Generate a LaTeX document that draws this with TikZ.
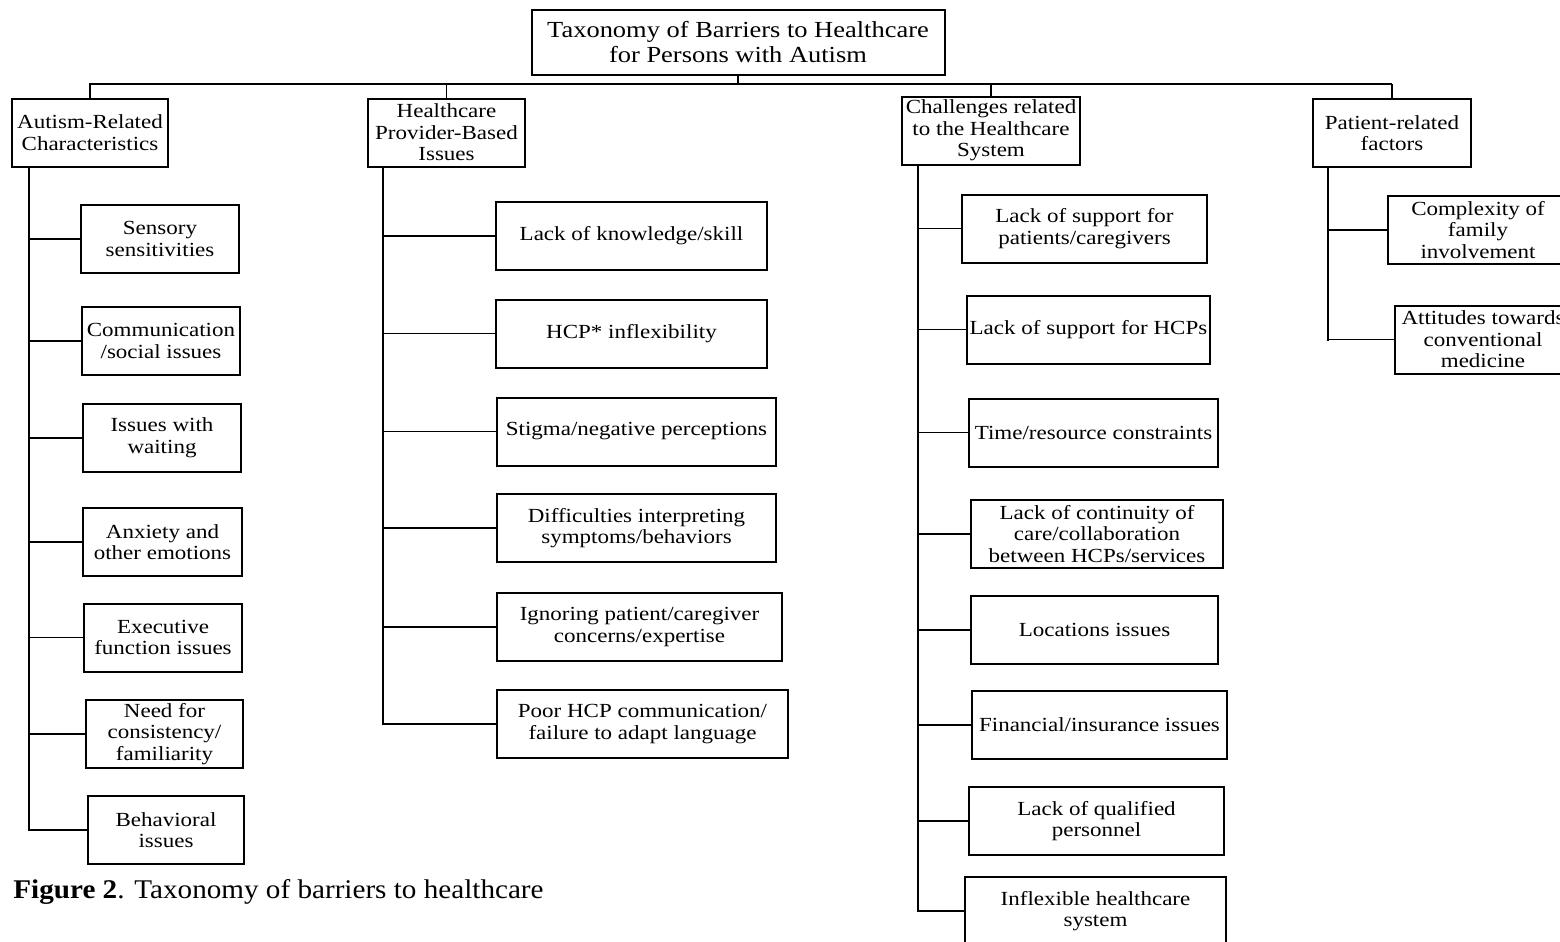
\documentclass[tikz,border=0pt]{standalone}
\usepackage{fontspec}
\setmainfont{Liberation Serif}
\newfontfamily\boxfont{Liberation Serif}[FakeStretch=1.15]
\newfontfamily\capfont{Liberation Serif}[FakeStretch=1.08]
\tikzset{
  box/.style={draw=black, line width=1pt, fill=white, align=center, inner sep=1pt,
    minimum height=34pt, font=\boxfont\fontsize{10}{10.8}\selectfont},
  rootbox/.style={box, minimum height=32.5pt, font=\boxfont\fontsize{11.5}{12.5}\selectfont},
  trunk/.style={line width=1.4pt, line cap=rect},
  branch/.style={line width=0.9pt},
  captext/.style={anchor=base west, inner sep=0pt, font=\capfont\fontsize{13.5}{15}\selectfont},
}

\begin{document}
\begin{tikzpicture}[x=0.5pt, y=-0.5pt]
\useasboundingbox (0,0) rectangle (1560,942);
% root and the four groups
\node[rootbox, minimum width=206.5pt] (root) at (738,42.5) {Taxonomy of Barriers to Healthcare\\for Persons with Autism};
\node[box, minimum width=78pt] (A) at (90,132.5) {Autism-Related\\Characteristics};
\node[box, minimum width=78.5pt] (B) at (446.5,132.5) {Healthcare\\Provider-Based\\Issues};
\node[box, minimum width=89pt] (C) at (991,130.5) {Challenges related\\to the Healthcare\\System};
\node[box, minimum width=79pt] (D) at (1392,133) {Patient-related\\factors};
\coordinate (bus) at (0,84);
\draw[trunk] (root.south) -- (root.south |- bus);
\draw[trunk] (A.north |- bus) -- (root.south |- bus);
\draw[branch] (root.south |- bus) -- (D.north |- bus);
\foreach \g in {A,B,C,D}
  \draw[branch] (\g.north) -- (\g.north |- bus);
% autism-related characteristics
\node[box, minimum width=79pt] (a1) at (160,239) {Sensory\\sensitivities};
\node[box, minimum width=79pt] (a2) at (161,341) {Communication\\/social issues};
\node[box, minimum width=79pt] (a3) at (162,438) {Issues with\\waiting};
\node[box, minimum width=79.5pt] (a4) at (162.5,542) {Anxiety and\\other emotions};
\node[box, minimum width=79pt] (a5) at (163,637.5) {Executive\\function issues};
\node[box, minimum width=78.5pt] (a6) at (164.5,734) {Need for\\consistency/\\familiarity};
\node[box, minimum width=78pt] (a7) at (166,830) {Behavioral\\issues};
% provider-based issues
\node[box, minimum width=135.5pt] (b1) at (631.5,236) {Lack of knowledge/skill};
\node[box, minimum width=135.5pt] (b2) at (631.5,333.5) {HCP* inflexibility};
\node[box, minimum width=139.5pt] (b3) at (636.5,431.5) {Stigma/negative perceptions};
\node[box, minimum width=139.5pt] (b4) at (636.5,528) {Difficulties interpreting\\symptoms/behaviors};
\node[box, minimum width=142.5pt] (b5) at (639.5,627) {Ignoring patient/caregiver\\concerns/expertise};
\node[box, minimum width=145.5pt] (b6) at (642.5,724) {Poor HCP communication/\\failure to adapt language};
% healthcare system
\node[box, minimum width=122.5pt] (c1) at (1084.5,228.5) {Lack of support for\\patients/caregivers};
\node[box, minimum width=121.5pt] (c2) at (1088.5,329.5) {Lack of support for HCPs};
\node[box, minimum width=124.5pt] (c3) at (1093.5,432.5) {Time/resource constraints};
\node[box, minimum width=126pt] (c4) at (1097,534) {Lack of continuity of\\care/collaboration\\between HCPs/services};
\node[box, minimum width=123.5pt] (c5) at (1094.5,630) {Locations issues};
\node[box, minimum width=127.5pt] (c6) at (1099.5,725) {Financial/insurance issues};
\node[box, minimum width=127.5pt] (c7) at (1096.5,821) {Lack of qualified\\personnel};
\node[box, minimum width=130.5pt] (c8) at (1095.5,911) {Inflexible healthcare\\system};
% patient-related factors
\node[box, minimum width=90pt] (d1) at (1478,230) {Complexity of\\family\\involvement};
\node[box, minimum width=88pt] (d2) at (1483,339.5) {Attitudes towards\\conventional\\medicine};
% trunks and branches
\coordinate (At) at ([xshift=9pt]A.south west);
\coordinate (Bt) at ([xshift=8pt]B.south west);
\coordinate (Ct) at ([xshift=8.5pt]C.south west);
\coordinate (Dt) at ([xshift=8pt]D.south west);
\draw[trunk] (At) -- (At |- a7.west);
\draw[trunk] (Bt) -- (Bt |- b6.west);
\draw[trunk] (Ct) -- (Ct |- c8.west);
\draw[trunk] (Dt) -- (Dt |- d2.west);
\foreach \n in {a1,a2,a3,a4,a5,a6,a7}
  \draw[branch] (At |- \n.west) -- (\n.west);
\foreach \n in {b1,b2,b3,b4,b5,b6}
  \draw[branch] (Bt |- \n.west) -- (\n.west);
\foreach \n in {c1,c2,c3,c4,c5,c6,c7,c8}
  \draw[branch] (Ct |- \n.west) -- (\n.west);
\foreach \n in {d1,d2}
  \draw[branch] (Dt |- \n.west) -- (\n.west);
% caption
\node[captext] (cap) at (13,898) {\textbf{Figure 2}. Taxonomy of barriers to healthcare};
\end{tikzpicture}
\end{document}
